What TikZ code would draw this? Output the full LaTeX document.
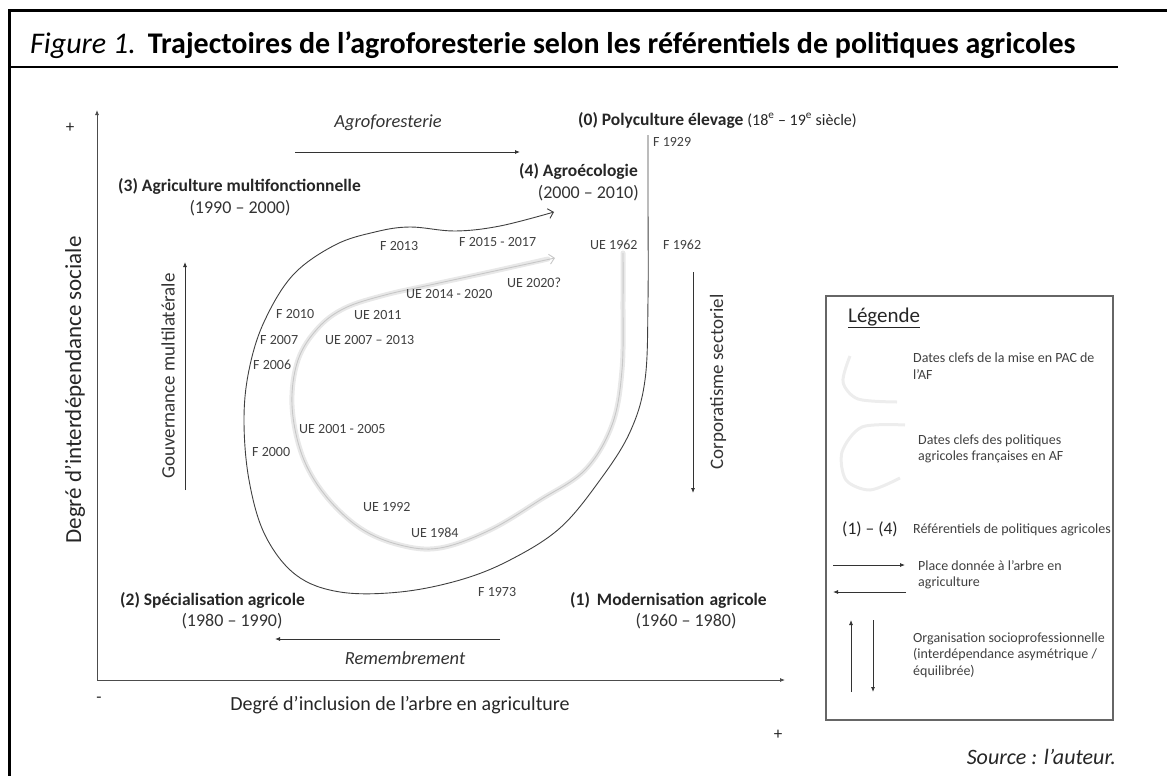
\documentclass[tikz,border=0pt]{standalone}
\usepackage{fontspec}
\setmainfont{Carlito}
\usepackage{tikz}
\usetikzlibrary{arrows.meta, positioning, calc}

\tikzset{
  region/.style={font=\fontsize{17.5}{21}\selectfont\bfseries, text=black!85, inner sep=0pt},
  period/.style={font=\fontsize{18}{21}\selectfont, text=black!80, inner sep=0pt},
  datelbl/.style={font=\fontsize{14}{16}\selectfont, text=black!75, inner sep=0pt, anchor=west},
  legtext/.style={font=\fontsize{14}{16.5}\selectfont, text=black!75, inner sep=0pt, align=left, anchor=west},
  axislbl/.style={font=\fontsize{20}{24}\selectfont, text=black!85, inner sep=0pt},
  flowlbl/.style={font=\fontsize{18.5}{22}\selectfont\itshape, text=black!80, inner sep=0pt},
  sidelbl/.style={font=\fontsize{19}{22}\selectfont, text=black!80, inner sep=0pt, rotate=90},
  flow/.style={draw=black!80, line width=0.8pt, -{Latex[length=5pt,width=4pt]}},
  ftraj/.style={draw=black!75, line width=0.9pt},
  uehalo/.style={draw=black!9, line width=5pt, line cap=round},
  uecore/.style={draw=black!22, line width=0.9pt}
}

\begin{document}
\begin{tikzpicture}[x=1pt, y=-1pt]
\useasboundingbox (0,0) rectangle (1167,776);

% cadre et titre
\draw[line width=3pt] (9.5,776) -- (9.5,11) -- (1167,11);
\node[anchor=base west, inner sep=0pt, font=\fontsize{30}{34}\selectfont] (title) at (30,53)
  {\textit{Figure 1.}\hspace{0.4em}\textbf{Trajectoires de l’agroforesterie selon les référentiels de politiques agricoles}};
\draw[line width=1.2pt] (10,67) -- (1118,67);

% axes
\coordinate (orig) at (97,680);
\coordinate (ytop) at (97,110);
\coordinate (xend) at (785,680);
\draw[flow, draw=black!70] (orig) -- (ytop);
\draw[flow, draw=black!70] (orig) -- (xend);
\node[axislbl, font=\fontsize{17}{20}\selectfont] (yplus) at (70,128) {+};
\node[axislbl, font=\fontsize{17}{20}\selectfont] (xminus) at (99,700) {-};
\node[axislbl, font=\fontsize{17}{20}\selectfont] (xplus) at (778,735) {+};
\node[axislbl, font=\fontsize{23}{27}\selectfont, rotate=90] (ylbl) at (75,390) {Degré d’interdépendance sociale};
\node[axislbl] (xlbl) at (400,705) {Degré d’inclusion de l’arbre en agriculture};

% trajectoire F (noire)
\draw[ftraj, -{Straight Barb[length=5pt]}] plot[smooth, tension=0.6] coordinates {
  (648,135) (648,200) (648,300) (645,380) (630,432) (600,480) (560,528) (510,560)
  (460,580) (400,592) (340,592) (296,575) (265,535) (249,480) (244,420) (249,370)
  (264,322) (293,275) (335,245) (375,232) (410,227) (455,231) (500,226) (554,212)};

% trajectoire UE (grise)
\draw[uehalo] plot[smooth, tension=0.6] coordinates {
  (623,253) (623,300) (622,370) (612,425) (585,470) (540,500) (490,530) (440,548)
  (400,545) (360,528) (325,495) (302,455) (292,405) (298,360) (318,328) (345,308)
  (385,295) (430,285) (490,272) (548,259)};
\draw[uecore, -{Straight Barb[length=5pt]}] plot[smooth, tension=0.6] coordinates {
  (623,253) (623,300) (622,370) (612,425) (585,470) (540,500) (490,530) (440,548)
  (400,545) (360,528) (325,495) (302,455) (292,405) (298,360) (318,328) (345,308)
  (385,295) (430,285) (490,272) (555,258)};

% referentiels
\node[region, anchor=west] (r0) at (578,120) {(0) Polyculture élevage \textmd{\fontsize{16}{19}\selectfont(18\textsuperscript{e} – 19\textsuperscript{e} siècle)}};
\node[region, anchor=east] (r4) at (638,171) {(4) Agroécologie};
\node[period, anchor=east] (p4) at (639,193) {(2000 – 2010)};
\node[region, anchor=west] (r3) at (118,186) {(3) Agriculture multifonctionnelle};
\node[period] (p3) at (240,208) {(1990 – 2000)};
\node[region, anchor=west] (r2) at (120,600) {(2) Spécialisation agricole};
\node[period] (p2) at (232,621) {(1980 – 1990)};
\node[region, anchor=west] (r1) at (570,600) {(1)\hspace{0.4em}Modernisation\hspace{0.3em}agricole};
\node[period] (p1) at (686,621) {(1960 – 1980)};

% dates clefs
\foreach \x/\y/\t [count=\i] in {653/142/F 1929, 663/245/F 1962, 590/245/UE 1962,
    459/242/F 2015 - 2017, 380/246/F 2013, 507/283/UE 2020?, 406/294/UE 2014 - 2020,
    276/314/F 2010, 354/315/UE 2011, 260/340/F 2007, 325/340/UE 2007 – 2013,
    253/365/F 2006, 299/429/UE 2001 - 2005, 252/452/F 2000, 363/507/UE 1992,
    411/533/UE 1984, 478/592/F 1973}
  \node[datelbl] (d\i) at (\x,\y) {\t};

% fleches de dynamique
\coordinate (agfA) at (295,152);
\coordinate (agfB) at (520,152);
\draw[flow] (agfA) -- (agfB);
\node[flowlbl] (agf) at (388,123) {Agroforesterie};
\coordinate (remA) at (500,639);
\coordinate (remB) at (275,639);
\draw[flow] (remA) -- (remB);
\node[flowlbl] (rem) at (405,658) {Remembrement};
\coordinate (gouvA) at (185,490);
\coordinate (gouvB) at (185,262);
\draw[flow] (gouvA) -- (gouvB);
\node[sidelbl] (gouv) at (168,376) {Gouvernance multilatérale};
\coordinate (corpA) at (693,272);
\coordinate (corpB) at (693,493);
\draw[flow] (corpA) -- (corpB);
\node[sidelbl] (corp) at (718,382) {Corporatisme sectoriel};

% legende
\draw[draw=black!60, line width=1.2pt] (826,296) rectangle (1113,720);
\node[anchor=west, inner sep=0pt, font=\fontsize{21}{24}\selectfont, text=black!85] (leg) at (848,318) {\underline{Légende}};
\draw[draw=black!7, line width=3pt] plot[smooth] coordinates {(850,356) (843,382) (858,399) (897,402)};
\node[legtext] (l1) at (913,366) {Dates clefs de la mise en PAC de\\l’AF};
\draw[draw=black!7, line width=3pt] plot[smooth] coordinates {(905,425) (862,427) (842,452) (846,480) (870,490) (900,478)};
\node[legtext] (l2) at (918,449) {Dates clefs des politiques\\agricoles françaises en AF};
\node[anchor=west, inner sep=0pt, font=\fontsize{17.5}{20}\selectfont, text=black!85] (l3a) at (842,529) {(1) – (4)};
\node[legtext] (l3) at (913,530) {Référentiels de politiques agricoles};
\coordinate (la1) at (833,565);
\coordinate (la2) at (905,565);
\coordinate (la3) at (906,592);
\coordinate (la4) at (833,592);
\draw[flow] (la1) -- (la2);
\draw[flow] (la3) -- (la4);
\node[legtext] (l4) at (918,575) {Place donnée à l’arbre en\\agriculture};
\coordinate (lv1) at (851,692);
\coordinate (lv2) at (851,620);
\coordinate (lv3) at (873,620);
\coordinate (lv4) at (873,692);
\draw[flow] (lv1) -- (lv2);
\draw[flow] (lv3) -- (lv4);
\node[legtext] (l5) at (913,655) {Organisation socioprofessionnelle\\(interdépendance asymétrique /\\équilibrée)};

\node[anchor=east, inner sep=0pt, font=\fontsize{22}{26}\selectfont\itshape, text=black!85] (src) at (1116,757) {Source : l’auteur.};
\end{tikzpicture}
\end{document}
